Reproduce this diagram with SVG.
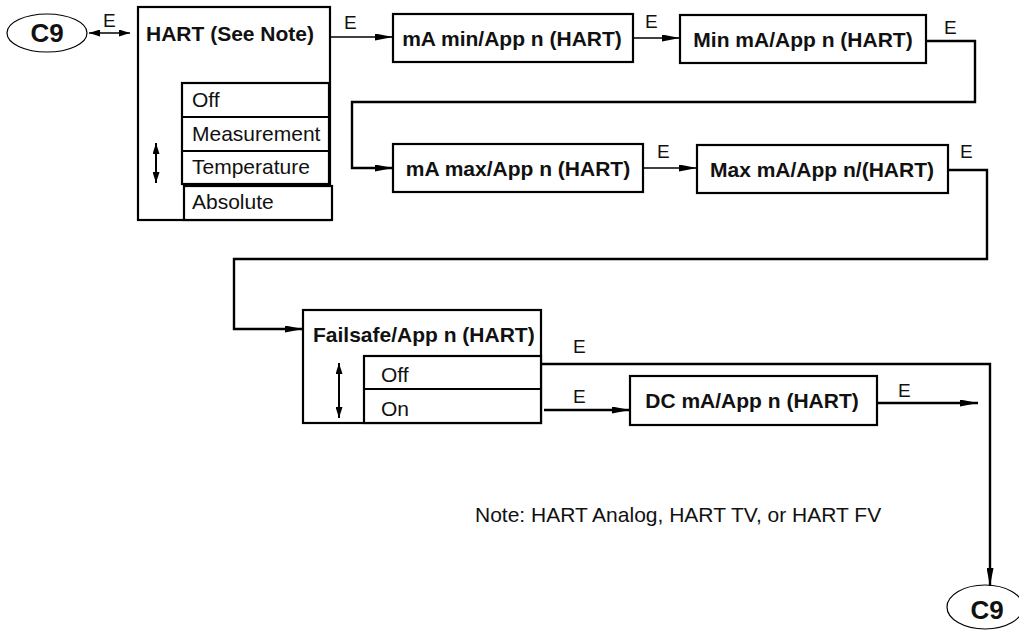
<svg xmlns="http://www.w3.org/2000/svg" width="1019" height="631" viewBox="0 0 1019 631">
<defs>
<marker id="ah" viewBox="0 0 18 7" markerWidth="18" markerHeight="7" refX="18" refY="3.5" orient="auto-start-reverse" markerUnits="userSpaceOnUse"><path d="M0,0 L18,3.5 L0,7 Z" fill="#000"/></marker>
<marker id="sm" viewBox="0 0 11 7" markerWidth="11" markerHeight="7" refX="11" refY="3.5" orient="auto-start-reverse" markerUnits="userSpaceOnUse"><path d="M0,0 L11,3.5 L0,7 Z" fill="#000"/></marker>
</defs>
<style>
.box{fill:#fff;stroke:#000;stroke-width:2.2}
.ln{fill:none;stroke:#000;stroke-width:2}
.el{fill:#fff;stroke:#000;stroke-width:1.2}
.t{font-family:"Liberation Sans",Arial,Helvetica,sans-serif;font-size:21px;fill:#111}
.b{font-weight:bold}
.m{text-anchor:middle}
.lbl{font-size:19px}
.c9{font-size:26px;font-weight:bold}
.c{fill:none;stroke:#000;stroke-width:2.4}
.c1{fill:none;stroke:#000;stroke-width:1.6}
.ud{fill:none;stroke:#000;stroke-width:2;marker-start:url(#sm);marker-end:url(#sm)}
</style>
<rect width="1019" height="631" fill="#fff"/>

<g id="c9-start">
<ellipse class="el" cx="47" cy="33" rx="40" ry="19"/>
<text class="t c9 m" x="47" y="42">C9</text>
</g>

<g id="hart">
<rect class="box" x="138" y="7" width="192" height="213"/>
<text class="t b" x="146" y="41">HART (See Note)</text>
<rect class="box" x="182" y="83" width="147" height="101"/>
<line class="ln" x1="182" y1="117" x2="329" y2="117"/>
<line class="ln" x1="182" y1="151" x2="329" y2="151"/>
<rect class="box" x="184" y="186" width="148" height="34"/>
<text class="t" x="192" y="107">Off</text>
<text class="t" x="192" y="141">Measurement</text>
<text class="t" x="192" y="174">Temperature</text>
<text class="t" x="192" y="209">Absolute</text>
<path class="ud" d="M156,143 V183"/>
</g>

<g id="ma-min">
<rect class="box" x="393" y="14" width="240" height="48"/>
<text class="t b m" x="512" y="46">mA min/App n (HART)</text>
</g>

<g id="min-ma">
<rect class="box" x="680" y="15" width="246" height="48"/>
<text class="t b m" x="803" y="47">Min mA/App n (HART)</text>
</g>

<g id="ma-max">
<rect class="box" x="393" y="144" width="250" height="48"/>
<text class="t b m" x="518" y="176">mA max/App n (HART)</text>
</g>

<g id="max-ma">
<rect class="box" x="697" y="145" width="251" height="48"/>
<text class="t b m" x="822" y="177">Max mA/App n/(HART)</text>
</g>

<g id="failsafe">
<rect class="box" x="303" y="310" width="238" height="113"/>
<text class="t b" x="313" y="342">Failsafe/App n (HART)</text>
<rect class="box" x="364" y="356" width="177" height="67"/>
<line class="ln" x1="364" y1="389" x2="541" y2="389"/>
<text class="t" x="381" y="382">Off</text>
<text class="t" x="381" y="416">On</text>
<path class="ud" d="M339,363 V418"/>
</g>

<g id="dc-ma">
<rect class="box" x="630" y="376" width="247" height="49"/>
<text class="t b m" x="752" y="408">DC mA/App n (HART)</text>
</g>

<g id="c9-end">
<ellipse class="el" cx="985" cy="607" rx="38" ry="22"/>
<text class="t c9 m" x="987" y="619">C9</text>
</g>

<g id="note">
<text class="t" x="475" y="522">Note: HART Analog, HART TV, or HART FV</text>
</g>

<g id="connectors">
<path class="c1" d="M89,33 H130" marker-start="url(#sm)" marker-end="url(#sm)"/>
<path class="c1" d="M330,37 H393" marker-end="url(#ah)"/>
<path class="c1" d="M633,38 H680" marker-end="url(#ah)"/>
<path class="c" d="M926,41 H975 V102 H352 V168 H393" marker-end="url(#ah)"/>
<path class="c1" d="M643,168 H697" marker-end="url(#ah)"/>
<path class="c" d="M948,170 H987 V259 H234 V329 H303" marker-end="url(#ah)"/>
<path class="c" d="M541,364 H990 V586" marker-end="url(#ah)"/>
<path class="c" d="M544,410 H630" marker-end="url(#ah)"/>
<path class="c" d="M877,403 H978" marker-end="url(#ah)"/>
<text class="t lbl" x="103" y="27">E</text>
<text class="t lbl" x="344" y="29">E</text>
<text class="t lbl" x="645" y="28">E</text>
<text class="t lbl" x="944" y="34">E</text>
<text class="t lbl" x="657" y="158">E</text>
<text class="t lbl" x="960" y="158">E</text>
<text class="t lbl" x="573" y="353">E</text>
<text class="t lbl" x="573" y="403">E</text>
<text class="t lbl" x="898" y="397">E</text>
</g>
</svg>
